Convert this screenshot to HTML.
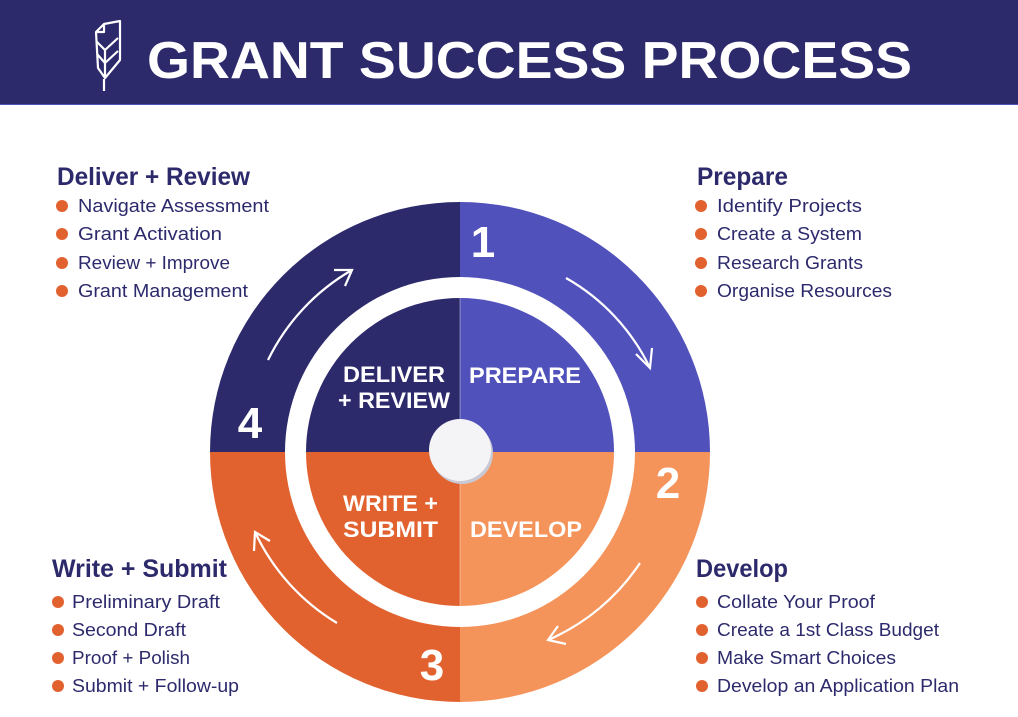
<!DOCTYPE html>
<html><head><meta charset="utf-8"><style>
html,body{margin:0;padding:0;background:#fff;}
svg{display:block;}
text{font-family:"Liberation Sans",sans-serif;}
</style></head><body>
<svg width="1018" height="717" viewBox="0 0 1018 717" xmlns="http://www.w3.org/2000/svg">
<rect x="0" y="0" width="1018" height="105" fill="#2d2a6c"/>
<rect x="0" y="104" width="1018" height="1" fill="#5151bb"/>
<!-- leaf icon -->
<g fill="none" stroke="#fff" stroke-width="2.2" stroke-linejoin="round">
<path d="M104 24 L120 21 L120 60 L105 78 L98 68 L96 32 Z"/>
<path d="M96 32 L104 32 L104 24"/>
<path d="M104 79 L104 91"/>
<path d="M97 42 L105 50 L118 38"/>
<path d="M97 54 L105 63 L118 51"/>
<path d="M105 50 L105 78"/>
</g>
<text x="147" y="78" fill="#fff" font-size="52" font-weight="bold" textLength="765" lengthAdjust="spacingAndGlyphs">GRANT SUCCESS PROCESS</text>

<!-- wheel -->
<g transform="translate(460,452)">
<path d="M0 0 L0 -250 A250 250 0 0 1 250 0 Z" fill="#5151bb"/>
<path d="M0 0 L250 0 A250 250 0 0 1 0 250 Z" fill="#f4935a"/>
<path d="M0 0 L0 250 A250 250 0 0 1 -250 0 Z" fill="#e2622f"/>
<path d="M0 0 L-250 0 A250 250 0 0 1 0 -250 Z" fill="#2d2a6c"/>
<circle r="175" fill="#fff"/>
<path d="M0 0 L0 -154 A154 154 0 0 1 154 0 Z" fill="#5151bb"/>
<path d="M0 0 L154 0 A154 154 0 0 1 0 154 Z" fill="#f4935a"/>
<path d="M0 0 L0 154 A154 154 0 0 1 -154 0 Z" fill="#e2622f"/>
<path d="M0 0 L-154 0 A154 154 0 0 1 0 -154 Z" fill="#2d2a6c"/>
<line x1="0" y1="-154" x2="0" y2="154" stroke="#fff" stroke-opacity="0.4" stroke-width="1"/>
<circle cx="2" cy="1" r="31" fill="#c9c9d6"/>
<circle cx="0" cy="-2" r="31" fill="#f4f4f6"/>
<!-- arrows -->
<g fill="none" stroke="#fff" stroke-width="2.2">
<path d="M106 -174 A206 206 0 0 1 190 -84"/>
<path d="M176 -98 L190 -84 L192 -104"/>
<path d="M180 111 A210 210 0 0 1 88 188"/>
<path d="M106 192 L88 188 L98 174"/>
<path d="M-123 171 A210 210 0 0 1 -205 80"/>
<path d="M-206 99 L-205 80 L-190 89"/>
<path d="M-192 -92 A210 210 0 0 1 -108 -182"/>
<path d="M-126 -182 L-108 -182 L-115 -166"/>
</g>
</g>
<g fill="#fff" font-weight="bold">
<text x="483" y="257" font-size="44" text-anchor="middle">1</text>
<text x="668" y="498" font-size="44" text-anchor="middle">2</text>
<text x="432" y="680" font-size="44" text-anchor="middle">3</text>
<text x="250" y="438" font-size="44" text-anchor="middle">4</text>
<g font-size="22">
<text x="343" y="382" textLength="102" lengthAdjust="spacingAndGlyphs">DELIVER</text>
<text x="338" y="408" textLength="112" lengthAdjust="spacingAndGlyphs">+ REVIEW</text>
<text x="469" y="383" textLength="112" lengthAdjust="spacingAndGlyphs">PREPARE</text>
<text x="343" y="511" textLength="95" lengthAdjust="spacingAndGlyphs">WRITE +</text>
<text x="343" y="537" textLength="95" lengthAdjust="spacingAndGlyphs">SUBMIT</text>
<text x="470" y="537" textLength="112" lengthAdjust="spacingAndGlyphs">DEVELOP</text>
</g>
</g>

<!-- side lists -->
<g fill="#2d2a6c">
<g font-size="25" font-weight="bold">
<text x="57" y="185" textLength="193" lengthAdjust="spacingAndGlyphs">Deliver + Review</text>
<text x="697" y="185" textLength="91" lengthAdjust="spacingAndGlyphs">Prepare</text>
<text x="52" y="577" textLength="175" lengthAdjust="spacingAndGlyphs">Write + Submit</text>
<text x="696" y="577" textLength="92" lengthAdjust="spacingAndGlyphs">Develop</text>
</g>
<g font-size="18">
<text x="78" y="212" textLength="191" lengthAdjust="spacingAndGlyphs">Navigate Assessment</text>
<text x="78" y="240" textLength="144" lengthAdjust="spacingAndGlyphs">Grant Activation</text>
<text x="78" y="269" textLength="152" lengthAdjust="spacingAndGlyphs">Review + Improve</text>
<text x="78" y="297" textLength="170" lengthAdjust="spacingAndGlyphs">Grant Management</text>
<text x="717" y="212" textLength="145" lengthAdjust="spacingAndGlyphs">Identify Projects</text>
<text x="717" y="240" textLength="145" lengthAdjust="spacingAndGlyphs">Create a System</text>
<text x="717" y="269" textLength="146" lengthAdjust="spacingAndGlyphs">Research Grants</text>
<text x="717" y="297" textLength="175" lengthAdjust="spacingAndGlyphs">Organise Resources</text>
<text x="72" y="608" textLength="148" lengthAdjust="spacingAndGlyphs">Preliminary Draft</text>
<text x="72" y="636" textLength="114" lengthAdjust="spacingAndGlyphs">Second Draft</text>
<text x="72" y="664" textLength="118" lengthAdjust="spacingAndGlyphs">Proof + Polish</text>
<text x="72" y="692" textLength="167" lengthAdjust="spacingAndGlyphs">Submit + Follow-up</text>
<text x="717" y="608" textLength="158" lengthAdjust="spacingAndGlyphs">Collate Your Proof</text>
<text x="717" y="636" textLength="222" lengthAdjust="spacingAndGlyphs">Create a 1st Class Budget</text>
<text x="717" y="664" textLength="179" lengthAdjust="spacingAndGlyphs">Make Smart Choices</text>
<text x="717" y="692" textLength="242" lengthAdjust="spacingAndGlyphs">Develop an Application Plan</text>
</g>
</g>
<g fill="#e2622f">
<circle cx="62" cy="206" r="6"/><circle cx="62" cy="234" r="6"/><circle cx="62" cy="263" r="6"/><circle cx="62" cy="291" r="6"/>
<circle cx="701" cy="206" r="6"/><circle cx="701" cy="234" r="6"/><circle cx="701" cy="263" r="6"/><circle cx="701" cy="291" r="6"/>
<circle cx="58" cy="602" r="6"/><circle cx="58" cy="630" r="6"/><circle cx="58" cy="658" r="6"/><circle cx="58" cy="686" r="6"/>
<circle cx="702" cy="602" r="6"/><circle cx="702" cy="630" r="6"/><circle cx="702" cy="658" r="6"/><circle cx="702" cy="686" r="6"/>
</g>
</svg>
</body></html>
